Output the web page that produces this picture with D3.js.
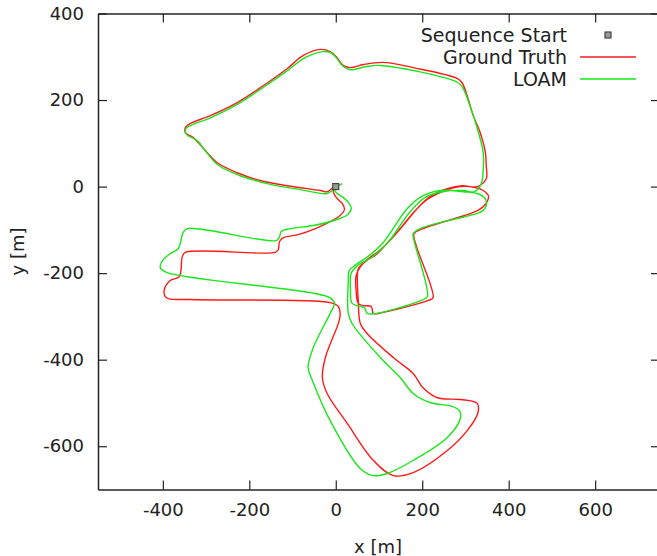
<!DOCTYPE html>
<html>
<head>
<meta charset="utf-8">
<script src="https://cdn.jsdelivr.net/npm/d3@7"></script>
<style>
  body { margin: 0; background: #fff; }
  text { font-family: "DejaVu Sans", sans-serif; fill: #222; }
</style>
</head>
<body>
<div id="chart"></div>
<script>
// ground truth trajectory (x, y in metres)
var gtX = [0, -6, 1, 15, 20, 10, -13, -47, -87, -121, -130, -133, -140, -348, -355, -362, -383, -397, -392, -336,
  -13, 6, 10, 6, -24, -31, -20, 27, 87, 133, 179, 258, 304, 329, 327, 288, 235, 202, 179, 133,
  73, 57, 52, 50, 52, 71, 94, 114, 149, 184, 214, 253, 288, 323, 341, 353, 348, 329, 202, 181,
  186, 225, 214, 108, 87, 82, 64, 52, 47, 47, 57, 75, 98, 121, 154, 188, 218, 258, 292, 327,
  348, 348, 346, 334, 318, 304, 292, 281, 179, 110, 64, 34, 17, 3, -13, -36, -75, -112, -168, -228,
  -290, -336, -348, -348, -329, -306, -274, -228, -175, -112, -36, -20, -6, 0]
var gtY = [0, -9, -25, -39, -53, -67, -81, -97, -111, -118, -127, -146, -152, -152, -162, -208, -217, -240, -257, -261,
  -268, -277, -298, -316, -395, -441, -478, -548, -633, -668, -661, -610, -564, -522, -501, -492, -488, -465, -432, -395,
  -340, -317, -263, -206, -190, -171, -157, -136, -97, -55, -28, -9, 0, -2, -9, -21, -39, -55, -97, -109,
  -136, -257, -263, -291, -293, -277, -275, -270, -240, -206, -185, -166, -150, -129, -92, -51, -23, -5, 2, 0,
  18, 49, 79, 125, 164, 210, 240, 250, 275, 287, 282, 275, 280, 298, 312, 317, 303, 273, 233, 194,
  164, 146, 136, 125, 113, 88, 55, 32, 14, 2, -9, -12, -2, 0]

// LOAM estimate (x, y in metres)
var loamX = [0, -3, 3, 17, 31, 36, 27, 3, -52, -105, -126, -131, -138, -343, -353, -364, -383, -399, -406, -390,
  -13, -3, -13, -52, -64, -54, -13, 57, 87, 119, 179, 258, 288, 286, 269, 218, 179, 149, 103, 38,
  29, 29, 31, 47, 71, 110, 165, 202, 242, 295, 327, 346, 348, 341, 327, 195, 179, 181, 212, 202,
  96, 73, 66, 38, 34, 36, 50, 73, 94, 121, 172, 207, 246, 295, 320, 336, 341, 341, 329, 311,
  295, 283, 103, 68, 34, 15, 1, -13, -31, -71, -112, -168, -228, -290, -336, -348, -345, -320, -302, -274,
  -221, -151, -82, -20, -6, 6, 15]
var loamY = [0, -7, -16, -25, -39, -51, -65, -76, -90, -97, -104, -118, -125, -97, -106, -143, -155, -169, -187, -199,
  -257, -270, -293, -372, -418, -448, -541, -652, -668, -663, -633, -580, -536, -518, -508, -499, -478, -441, -395, -317,
  -293, -217, -194, -180, -164, -129, -51, -21, -9, -12, -16, -28, -44, -55, -62, -97, -109, -125, -254, -261,
  -293, -293, -280, -270, -240, -199, -183, -169, -155, -129, -58, -25, -12, -9, -12, 5, 37, 79, 129, 185,
  226, 240, 280, 277, 270, 280, 298, 310, 312, 298, 268, 229, 190, 159, 141, 132, 120, 106, 83, 51,
  25, 5, -7, -16, -7, 2, 7]

var startPoint = [0, 0]
var xTicks = [-400, -200, 0, 200, 400, 600]
var yTicks = [-600, -400, -200, 0, 200, 400]
var seriesNames = ["Sequence Start", "Ground Truth", "LOAM"]
var seriesColors = ["#777", "#ff1a1a", "#1ae61a"]

var width = 657
    height = 556
    margin = {left: 98, top: 13.5, right: -3, bottom: 66.5}

var svg = d3.select("#chart")
  .append("svg")
    .attr("width", width)
    .attr("height", height)

var x = d3.scaleLinear()
  .domain([-550, 750])
  .range([margin.left, width - margin.right])

var y = d3.scaleLinear()
  .domain([-700, 400])
  .range([height - margin.bottom, margin.top])

var axisColor = "#222"
// plain hyphen for negatives, like gnuplot
var fmt = function(d){ return String(d) }

// axes with inward ticks, mirrored like gnuplot's border
svg.append("g")
  .attr("transform", "translate(0," + (height - margin.bottom) + ")")
  .call(d3.axisBottom(x).tickValues(xTicks).tickSizeInner(-9).tickSizeOuter(0).tickPadding(14).tickFormat(fmt))
svg.append("g")
  .attr("transform", "translate(0," + margin.top + ")")
  .call(d3.axisTop(x).tickValues(xTicks).tickSizeInner(-9).tickSizeOuter(0).tickFormat(""))
svg.append("g")
  .attr("transform", "translate(" + margin.left + ",0)")
  .call(d3.axisLeft(y).tickValues(yTicks).tickSizeInner(-9).tickSizeOuter(0).tickPadding(14).tickFormat(fmt))
svg.append("g")
  .attr("transform", "translate(" + (width - margin.right) + ",0)")
  .call(d3.axisRight(y).tickValues(yTicks).tickSizeInner(-9).tickSizeOuter(0).tickFormat(""))

svg.selectAll(".domain").attr("stroke", axisColor).attr("stroke-width", 1.5)
svg.selectAll(".tick line").attr("stroke", axisColor).attr("stroke-width", 1.2)
svg.selectAll(".tick text")
  .style("font-family", "DejaVu Sans")
  .style("font-size", "18px")
  .attr("fill", "#222")

// axis titles
svg.append("text")
  .attr("x", (x(-550) + x(750)) / 2 - 1)
  .attr("y", 553)
  .attr("text-anchor", "middle")
  .style("font-size", "18px")
  .text("x [m]")
svg.append("text")
  .attr("transform", "translate(24," + (y(-150)) + ") rotate(-90)")
  .attr("text-anchor", "middle")
  .style("font-size", "18px")
  .text("y [m]")

// trajectories
var line = d3.line()
  .x(function(d){ return x(d[0]) })
  .y(function(d){ return y(d[1]) })
  .curve(d3.curveCatmullRom.alpha(0.5))

var gt = d3.zip(gtX, gtY)
var loam = d3.zip(loamX, loamY)

svg.append("path")
  .datum(gt)
  .attr("d", line)
  .attr("fill", "none")
  .attr("stroke", seriesColors[1])
  .attr("stroke-width", 1.4)
svg.append("path")
  .datum(loam)
  .attr("d", line)
  .attr("fill", "none")
  .attr("stroke", seriesColors[2])
  .attr("stroke-width", 1.4)

// sequence start marker
function marker(g, cx, cy) {
  g.append("rect")
    .attr("x", cx - 3)
    .attr("y", cy - 3)
    .attr("width", 6)
    .attr("height", 6)
    .attr("fill", "#999")
    .attr("stroke", "#444")
    .attr("stroke-width", 1.2)
}
marker(svg, x(startPoint[0]), y(startPoint[1]))

// legend
var legend = svg.append("g")
var legendY = [35, 57, 79]
seriesNames.forEach(function(name, i) {
  legend.append("text")
    .attr("x", 567)
    .attr("y", legendY[i] + 6.5)
    .attr("text-anchor", "end")
    .style("font-size", "19px")
    .text(name)
  if (i === 0) {
    marker(legend, 608, legendY[i])
  } else {
    legend.append("line")
      .attr("x1", 580).attr("x2", 636)
      .attr("y1", legendY[i]).attr("y2", legendY[i])
      .attr("stroke", seriesColors[i])
      .attr("stroke-width", 1.4)
  }
})
</script>
</body>
</html>
